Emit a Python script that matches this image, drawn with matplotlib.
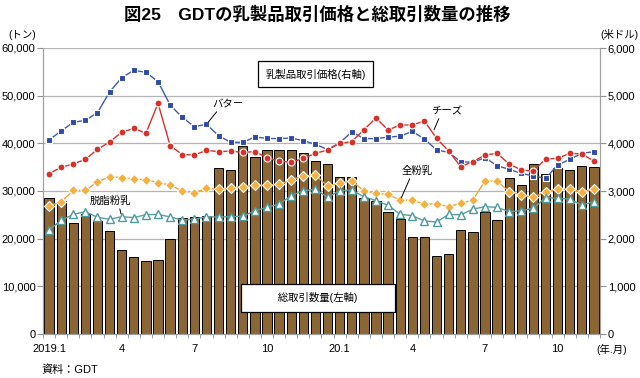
import numpy as np
import matplotlib
matplotlib.use("Agg")
import matplotlib.pyplot as plt
from matplotlib.ticker import FuncFormatter

plt.rcParams['font.family'] = ['Liberation Sans', 'Noto Sans CJK JP']

# GDT auctions, 2019.1 - 2020.11 (two per month)
tick_labels = ['2019.1', '4', '7', '10', '20.1', '4', '7', '10']
tick_index = [0, 6, 12, 18, 24, 30, 36, 42]

# total volume (tonnes, left axis)
volume = [28460, 27970, 23200, 25100, 23800, 21600, 17700, 16150, 15250, 15450,
          19900, 24300, 24500, 24800, 34750, 34400, 39500, 37100, 38500, 38500,
          38500, 37970, 36200, 35700, 33000, 33000, 28500, 27900, 25500, 24200,
          20300, 20400, 16300, 16700, 21800, 21300, 25500, 24000, 32700, 31200,
          35600, 33600, 34900, 34500, 35300, 35100]

# prices (US$/t, right axis)
butter = [4070, 4259, 4441, 4483, 4643, 5077, 5378, 5531, 5490, 5294,
          4804, 4545, 4350, 4399, 4161, 4021, 4021, 4133, 4105, 4098,
          4112, 4055, 3979, 3870, 4010, 4240, 4100, 4100, 4130, 4150,
          4250, 4091, 3860, 3811, 3615, 3601, 3699, 3531, 3455, 3371,
          3315, 3266, 3545, 3664, 3790, 3825]
cheese = [3364, 3497, 3566, 3664, 3874, 4028, 4231, 4315, 4210, 4839,
          3951, 3765, 3755, 3853, 3825, 3839, 3811, 3825, 3699, 3629,
          3601, 3685, 3790, 3860, 4000, 4035, 4285, 4530, 4280, 4385,
          4385, 4469, 4105, 3839, 3510, 3615, 3755, 3790, 3566, 3441,
          3420, 3671, 3685, 3790, 3776, 3629]
wmp = [2692, 2769, 3014, 3014, 3189, 3301, 3280, 3252, 3238, 3175,
       3126, 3000, 2965, 3056, 3035, 3056, 3091, 3119, 3119, 3140,
       3231, 3320, 3335, 3105, 3161, 3217, 3000, 2951, 2930, 2804,
       2811, 2720, 2734, 2671, 2741, 2811, 3210, 3210, 2986, 2916,
       2867, 2986, 3035, 3035, 2986, 3035]
smp = [2182, 2385, 2510, 2566, 2448, 2406, 2462, 2441, 2503, 2510,
       2455, 2392, 2406, 2462, 2455, 2462, 2469, 2587, 2657, 2727,
       2902, 3007, 3035, 2867, 3007, 3021, 2881, 2797, 2700, 2510,
       2483, 2371, 2350, 2510, 2500, 2620, 2671, 2657, 2566, 2587,
       2636, 2860, 2846, 2832, 2706, 2776]

x = np.arange(len(volume))

fig = plt.figure(figsize=(6.4, 3.78), dpi=100)
ax = fig.add_axes([43/640, 44/378, 557/640, 286/378])

ax.bar(x, volume, width=0.77, color='#8b6534', edgecolor='black', linewidth=0.7, zorder=2)
ax.set_xlim(-0.5, len(volume) - 0.5)
ax.set_ylim(0, 60000)
ax.set_yticks(np.arange(0, 60001, 10000))
ax.yaxis.set_major_formatter(FuncFormatter(lambda v, p: f'{int(v):,}'))
ax.yaxis.grid(True, color='#b4b4b4', lw=0.9)
ax.set_axisbelow(True)

ax.set_xticks(tick_index)
ax.set_xticklabels(tick_labels)
ax.set_xticks(np.arange(-0.5, len(volume), 1), minor=True)
ax.tick_params(axis='x', which='major', length=0, pad=7, labelsize=8)
ax.tick_params(axis='x', which='minor', length=3, color='#8090b0')
ax.tick_params(axis='y', length=4, color='#909090', labelsize=8, pad=1.5)

ax2 = ax.twinx()
ax2.set_ylim(0, 6000)
ax2.set_yticks(np.arange(0, 6001, 1000))
ax2.yaxis.set_major_formatter(FuncFormatter(lambda v, p: f'{int(v):,}'))
ax2.tick_params(axis='y', length=4, color='#909090', labelsize=8, pad=1.5)

for a in (ax, ax2):
    for s in a.spines.values():
        s.set_color('#a0a0a0')
    a.spines['top'].set_visible(False)

ax2.plot(x, butter, color='#3f5bb0', lw=1, marker='s', ms=4.6,
         mfc='#2e4aa6', mec='white', mew=0.8, zorder=3)
ax2.plot(x, cheese, color='#d7312b', lw=1, marker='o', ms=5,
         mfc='#d7312b', mec='white', mew=0.8, zorder=4)
ax2.plot(x, wmp, color='#f0a63a', lw=1, marker='D', ms=4.6,
         mfc='#f5b041', mec='white', mew=0.8, zorder=3)
ax2.plot(x, smp, color='#5a9fa0', lw=1, marker='^', ms=5.2,
         mfc='white', mec='#4e9a9c', mew=1, zorder=3)

lead = dict(arrowstyle='-', color='black', lw=0.7, shrinkA=0, shrinkB=2)
ax2.annotate('バター', xy=(13, butter[13]), xytext=(14.8, 4825), fontsize=7.5,
             ha='center', va='center', arrowprops=dict(lead, relpos=(0.2, 0)))
ax2.annotate('チーズ', xy=(31.7, 4230), xytext=(32.8, 4680), fontsize=7.5,
             ha='center', va='center', arrowprops=dict(lead, relpos=(0.3, 0)))
ax2.annotate('全粉乳', xy=(29, wmp[29]), xytext=(30.4, 3420), fontsize=7.5,
             ha='center', va='center', arrowprops=dict(lead, relpos=(0.3, 0)))
ax2.annotate('脱脂粉乳', xy=(6, smp[6]), xytext=(5.1, 2790), fontsize=7.5,
             ha='center', va='center', arrowprops=dict(lead, relpos=(0.7, 0)))

box = dict(boxstyle='square,pad=0.7', fc='white', ec='black', lw=0.9)
ax2.text(22.0, 5455, '乳製品取引価格(右軸)', fontsize=7.5, ha='center', va='center',
         bbox=box, zorder=6)
box2 = dict(boxstyle='square,pad=0.8', fc='white', ec='black', lw=0.9)
ax2.text(22.2, 760, '          総取引数量(左軸)          ', fontsize=7.5,
         ha='center', va='center', bbox=box2, zorder=6)

fig.text(317/640, 1 - 14/378, '図25　GDTの乳製品取引価格と総取引数量の推移',
         fontsize=12.5, fontweight='bold', ha='center', va='center')
fig.text(22/640, 1 - 35/378, '(トン)', fontsize=7.5, ha='center', va='center')
fig.text(619/640, 1 - 35/378, '(米ドル)', fontsize=7.5, ha='center', va='center')
fig.text(612/640, 1 - 349/378, '(年.月)', fontsize=7.5, ha='center', va='center')
fig.text(42/640, 1 - 370/378, '資料：GDT', fontsize=8, ha='left', va='center')

fig.savefig('out.png', dpi=100)
